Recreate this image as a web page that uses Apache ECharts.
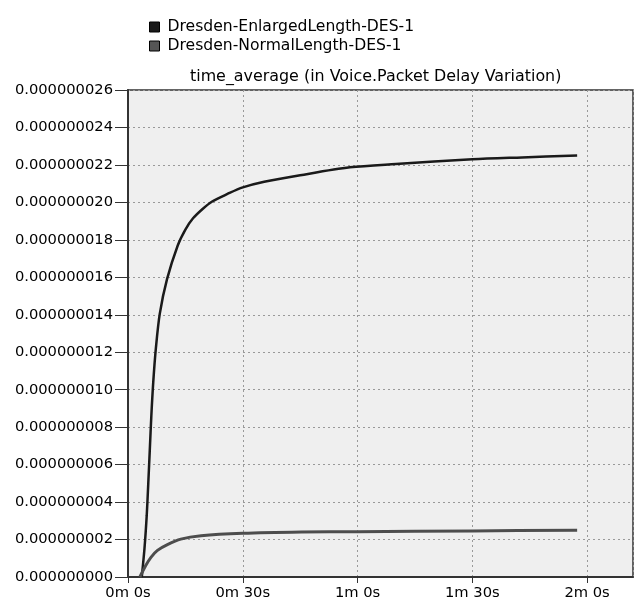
<!DOCTYPE html>
<html>
<head>
<meta charset="utf-8">
<script src="https://cdn.jsdelivr.net/npm/echarts@6/dist/echarts.min.js"></script>
<style>
  html, body { margin: 0; padding: 0; background: #fff; }
  #main { width: 634px; height: 601px; }
</style>
</head>
<body>
<div id="main"></div>
<script>
// seconds
var enlargedTime = [3.6, 4.3, 4.9, 5.3, 5.7, 6.1, 6.6, 7.3, 8.3, 10.2, 13.0, 15.0, 17.0, 19.5, 22.0, 26.0, 30.0, 35.6, 45.0, 58.0, 70.0, 90.0, 103.0, 117.4];
// values in units of 1e-9
var enlargedValue = [0, 1.5, 3.3, 5.0, 6.8, 8.6, 10.4, 12.24, 14.05, 15.9, 17.7, 18.55, 19.15, 19.65, 20.05, 20.45, 20.8, 21.1, 21.45, 21.87, 22.05, 22.3, 22.4, 22.5];

var normalTime = [3.1, 4.6, 6.0, 7.7, 10.3, 13.8, 19.1, 30.0, 45.3, 60.0, 90.0, 117.4];
var normalValue = [0, 0.6, 1.05, 1.42, 1.73, 2.02, 2.2, 2.33, 2.40, 2.42, 2.46, 2.5];

var seriesNames = ['Dresden-EnlargedLength-DES-1', 'Dresden-NormalLength-DES-1'];
var chartTitle = 'time_average (in Voice.Packet Delay Variation)';

function pairs(ts, vs) {
    var out = [];
    for (var i = 0; i < ts.length; i++) out.push([ts[i], vs[i] * 1e-9]);
    return out;
}

var font = 'DejaVu Sans';
var squareIcon = 'path://M0,0H10V10H0Z';
var myChart = echarts.init(document.getElementById('main'));
var option = {
    animation: false,
    textStyle: { fontFamily: font },
    title: {
        text: chartTitle,
        left: 185,
        top: 64,
        textStyle: { fontFamily: font, fontSize: 15.9, fontWeight: 'normal', color: '#000' }
    },
    legend: {
        orient: 'vertical',
        left: 144,
        top: 14,
        itemWidth: 16,
        itemHeight: 10,
        itemGap: 3,
        icon: squareIcon,
        textStyle: { fontFamily: font, fontSize: 15.6, color: '#000' },
        data: [
            { name: seriesNames[0], itemStyle: { color: '#1a1a1a', borderColor: '#000', borderWidth: 1 } },
            { name: seriesNames[1], itemStyle: { color: '#555', borderColor: '#000', borderWidth: 1 } }
        ]
    },
    grid: {
        left: 128, right: 1, top: 90, bottom: 24,
        show: true,
        backgroundColor: '#efefef',
        borderColor: '#333',
        borderWidth: 1.5
    },
    xAxis: {
        type: 'value',
        min: 0,
        max: 132,
        interval: 30,
        axisLine: { lineStyle: { color: '#333', width: 2 } },
        axisTick: { length: 6, lineStyle: { color: '#333' } },
        axisLabel: {
            showMaxLabel: false,
            color: '#000',
            fontSize: 14.7,
            margin: 9,
            formatter: function (v) {
                return Math.floor(v / 60) + 'm ' + (v % 60) + 's';
            }
        },
        splitLine: { lineStyle: { color: '#999', type: [2, 3] } }
    },
    yAxis: {
        type: 'value',
        min: 0,
        max: 26e-9,
        interval: 2e-9,
        axisLine: { show: true, lineStyle: { color: '#333', width: 2 } },
        axisTick: { show: true, length: 13, lineStyle: { color: '#333' } },
        axisLabel: {
            color: '#000',
            fontSize: 14.7,
            margin: 15,
            formatter: function (v) { return v.toFixed(9); }
        },
        splitLine: { lineStyle: { color: '#999', type: [2, 3] } }
    },
    series: [
        {
            name: seriesNames[0],
            type: 'line',
            showSymbol: false,
            smooth: 0.3,
            lineStyle: { color: '#1a1a1a', width: 2.5 },
            itemStyle: { color: '#1a1a1a' },
            data: pairs(enlargedTime, enlargedValue)
        },
        {
            name: seriesNames[1],
            type: 'line',
            showSymbol: false,
            smooth: 0.3,
            lineStyle: { color: '#4d4d4d', width: 3 },
            itemStyle: { color: '#555' },
            data: pairs(normalTime, normalValue)
        }
    ]
};
myChart.setOption(option);
</script>
</body>
</html>
